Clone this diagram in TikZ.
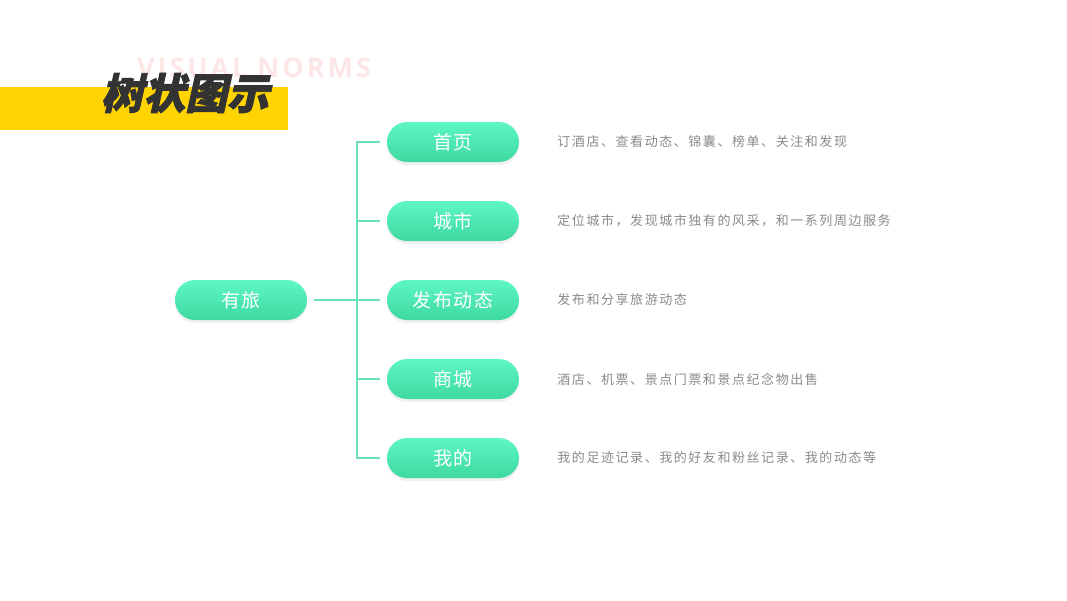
\documentclass[tikz,border=0pt]{standalone}
\usepackage{fontspec}
\setmainfont{Noto Sans CJK SC}
\newfontfamily\titlefont{Noto Sans CJK SC}[FakeSlant=0.22, FakeBold=2]
\newfontfamily\pillfont{Noto Sans CJK SC}[LetterSpace=8]
\newfontfamily\descfont{Noto Sans CJK SC}[LetterSpace=12]
\newfontfamily\markfont{Open Sans}[LetterSpace=11]
\usetikzlibrary{positioning,shadows}
\definecolor{barYellow}{HTML}{FFD400}
\definecolor{markPink}{HTML}{FDE6E6}
\definecolor{titleGray}{HTML}{333333}
\definecolor{pillTop}{HTML}{5EF7C4}
\definecolor{pillBottom}{HTML}{3ED8A0}
\definecolor{linkGreen}{HTML}{6CE0B9}
\definecolor{descGray}{HTML}{8A8A8A}

\begin{document}
\begin{tikzpicture}[
        x=1pt, y=-1pt,
        node distance=79pt,
        pill/.style={rounded corners=20pt, minimum width=132pt, minimum height=40pt,
          top color=pillTop, bottom color=pillBottom, inner sep=0pt,
          font=\pillfont\fontsize{19}{19}\selectfont, text=white,
          drop shadow={opacity=0.12, shadow xshift=0pt, shadow yshift=-3pt}},
        desc/.style={anchor=west, inner sep=0pt, text=descGray,
          font=\descfont\fontsize{13}{13}\selectfont},
        link/.style={draw=linkGreen, line width=2pt}
      ]
        \useasboundingbox (0,0) rectangle (1067,600);
        % heading
        \fill[barYellow] (0,87) rectangle (288,130);
        \node[inner sep=0pt, anchor=west, text=markPink, font=\markfont\bfseries\fontsize{27}{27}\selectfont]
          (mark) at (137,68) {VISUAL NORMS};
        \node[inner sep=0pt, anchor=west, text=titleGray, font=\titlefont\bfseries\fontsize{42}{42}\selectfont]
          (title) at (101,93) {树状图示};
        % tree
        \node[pill] (root) at (241,300) {有旅};
        \node[pill] (home) at (453,142) {首页};
        \node[pill, below of=home] (city) {城市};
        \node[pill, below of=city] (post) {发布动态};
        \node[pill, below of=post] (shop) {商城};
        \node[pill, below of=shop] (mine) {我的};
        \coordinate (fork) at (357,300);
        \draw[link, shorten <=7pt] (root.east) -- (fork);
        \foreach \leaf in {home,city,post,shop,mine}
          \draw[link, shorten >=7pt] (fork) |- (\leaf.west);
        % descriptions
        \node[desc, right=38pt of home] (homeDesc) {订酒店、查看动态、锦囊、榜单、关注和发现};
        \node[desc, right=38pt of city] (cityDesc) {定位城市，发现城市独有的风采，和一系列周边服务};
        \node[desc, right=38pt of post] (postDesc) {发布和分享旅游动态};
        \node[desc, right=38pt of shop] (shopDesc) {酒店、机票、景点门票和景点纪念物出售};
        \node[desc, right=38pt of mine] (mineDesc) {我的足迹记录、我的好友和粉丝记录、我的动态等};
\end{tikzpicture}
\end{document}
